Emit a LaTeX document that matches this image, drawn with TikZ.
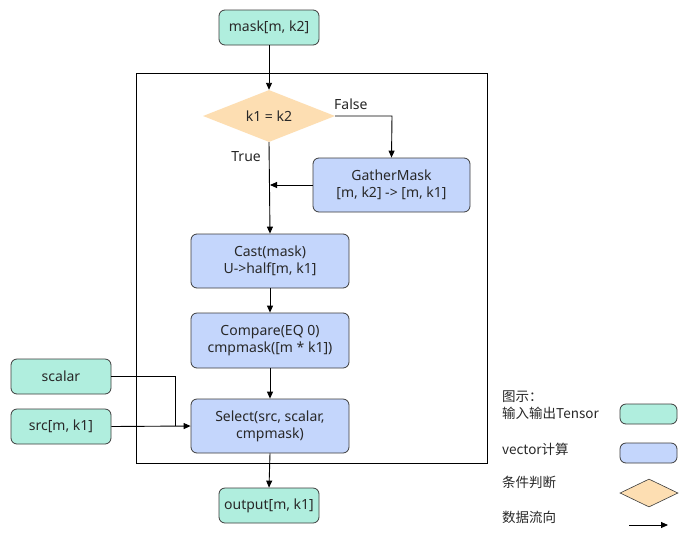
\documentclass[tikz,border=0pt]{standalone}
\usepackage{fontspec}
\setmainfont{Noto Sans}
\newfontfamily\cjk{Noto Sans CJK SC}
\usetikzlibrary{shapes.geometric,arrows.meta}
\definecolor{tealfill}{RGB}{176,238,222}
\definecolor{bluefill}{RGB}{196,214,252}
\definecolor{orangefill}{RGB}{253,222,178}
\definecolor{edgegray}{RGB}{60,60,60}
\definecolor{txt}{RGB}{40,40,40}
\begin{document}
\begin{tikzpicture}[x=1pt,y=-1pt,
  font=\fontsize{14}{17}\selectfont, text=txt,
  io/.style={draw=edgegray, line width=0.8pt, fill=tealfill, rounded corners=6pt, inner sep=0pt, minimum width=100pt, minimum height=35pt, align=center},
  calc/.style={draw=edgegray, line width=0.8pt, fill=bluefill, rounded corners=6pt, inner sep=0pt, minimum width=158pt, minimum height=54pt, align=center},
  decision/.style={diamond, fill=orangefill, inner sep=0pt, minimum width=132pt, minimum height=52pt, aspect=2.5},
  flow/.style={draw=black, line width=0.9pt, -{Triangle[length=7pt,width=6pt]}},
  plain/.style={draw=black, line width=0.9pt},
  legendtext/.style={anchor=west, inner sep=0pt, font=\cjk\fontsize{13.5}{16}\selectfont}
]
\useasboundingbox (0,0) rectangle (690,552);
\fill[white] (0,0) rectangle (690,552);

% frame
\draw[black, line width=0.9pt] (136,73) rectangle (487,463);

% nodes
\node[io] (mask) at (269,27.5) {mask[m, k2]};
\node[decision] (cond) at (269,116) {k1 = k2};
\node[calc, minimum width=157pt] (gather) at (391.5,185) {GatherMask\\{[m, k2] -> [m, k1]}};
\node[calc] (cast) at (270,261) {Cast(mask)\\U->half[m, k1]};
\node[calc, minimum height=55pt] (cmp) at (270,340.5) {Compare(EQ 0)\\cmpmask([m * k1])};
\node[calc] (sel) at (270,426) {Select(src, scalar,\\cmpmask)};
\node[io] (out) at (269,505.5) {output[m, k1]};
\node[io] (scalar) at (61,376.5) {scalar};
\node[io] (src) at (61,426.5) {src[m, k1]};

\coordinate (join) at (270,185);
\coordinate (bend) at (175,376.5);
\coordinate (merge) at (175,426);

% connectors
\draw[flow] (mask.south) -- (cond.north);
\draw[flow] (cond.east) -- (392,116) -- (gather.north);
\node[anchor=south west, inner sep=0pt] (falselbl) at (334,110) {False};
\draw[flow] (cond.south) -- (cast.north);
\node[anchor=north east, inner sep=0pt] (truelbl) at (261,151) {True};
\draw[flow] (gather.west) -- (join);
\draw[flow] (cast.south) -- (cmp.north);
\draw[flow] (cmp.south) -- (sel.north);
\draw[flow] (sel.south) -- (out.north);
\draw[plain] (scalar.east) -- (bend) -- (merge);
\draw[flow] (src.east) -- (sel.west);

% legend
\node[legendtext] (lg0) at (502,397) {图示：};
\node[legendtext] (lg1) at (502,413) {输入输出Tensor};
\node[legendtext] (lg2) at (502,449) {vector计算};
\node[legendtext] (lg3) at (502,482) {条件判断};
\node[legendtext] (lg4) at (502,517) {数据流向};
\node[io, minimum width=57pt, minimum height=20pt] (lgio) at (648.5,414) {};
\node[calc, minimum width=57pt, minimum height=20pt] (lgcalc) at (648.5,453) {};
\node[diamond, fill=orangefill, draw=edgegray, line width=0.6pt, inner sep=0pt, minimum width=58pt, minimum height=28pt, aspect=2] (lgdec) at (649,493) {};
\coordinate (lga) at (629,525);
\coordinate (lgb) at (668,525);
\draw[flow] (lga) -- (lgb);
\end{tikzpicture}
\end{document}
